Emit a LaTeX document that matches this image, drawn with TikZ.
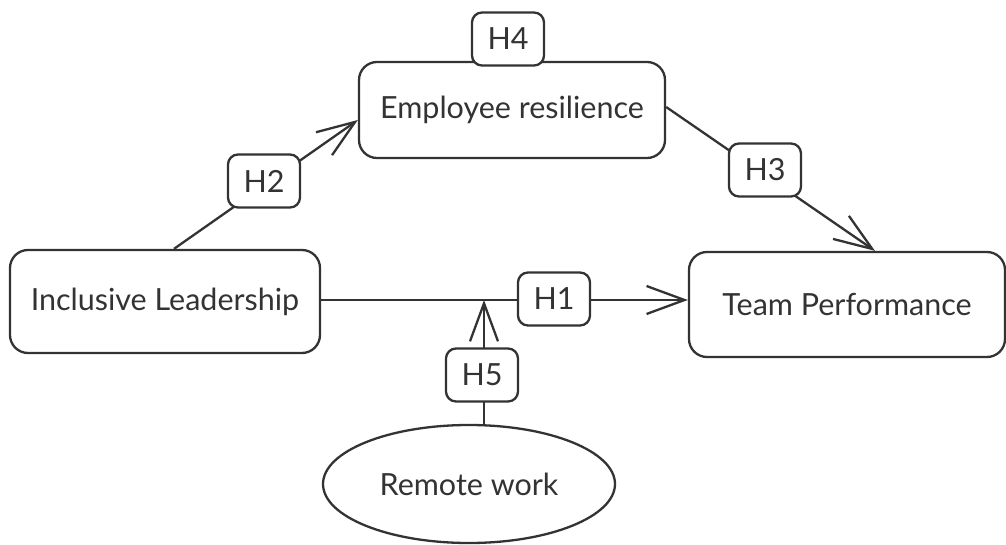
\documentclass[tikz,border=0pt]{standalone}
\usepackage{fontspec}
\setmainfont{Lato}
\usetikzlibrary{shapes.geometric,arrows.meta}
\definecolor{linec}{HTML}{333333}
\definecolor{txtc}{HTML}{333333}
\begin{document}
\begin{tikzpicture}[x=1pt,y=-1pt,
  every node/.style={inner sep=0pt, text=txtc},
  mainbox/.style={draw=linec, line width=2.3pt, rounded corners=18pt, fill=white,
    font=\fontsize{30.5}{36}\selectfont},
  hlabel/.style={draw=linec, line width=2.3pt, rounded corners=10pt, fill=white,
    minimum width=72pt, minimum height=53pt, font=\fontsize{30.5}{36}\selectfont},
  oval/.style={draw=linec, line width=2.3pt, ellipse, fill=white,
    minimum width=292pt, minimum height=118pt, font=\fontsize{30.5}{36}\selectfont},
  conn/.style={draw=linec, line width=2.3pt, -{Straight Barb[length=38pt,width=28pt,line width=2.3pt]}},
  plain/.style={draw=linec, line width=2.3pt}]
\useasboundingbox (0,0) rectangle (1006,545);
% main nodes
\node[mainbox, minimum width=310pt, minimum height=103pt] (IL) at (165,301.5) {Inclusive Leadership};
\node[mainbox, minimum width=306pt, minimum height=96pt] (ER) at (512,110) {Employee resilience};
\node[mainbox, minimum width=316pt, minimum height=105pt] (TP) at (847,304.5) {Team Performance};
\node[oval] (RW) at (469,484) {Remote work};
\coordinate (J) at (484,300);
% connectors
\draw[conn] ([xshift=9pt]IL.north) -- ([yshift=-10pt]ER.west);
\draw[conn] ([yshift=3pt]ER.east) -- ([xshift=28pt]TP.north);
\draw[conn] (IL.east |- J) -- (TP.west |- J);
\draw[conn] (RW.north -| J) -- (J);
% labels
\node[hlabel] (H2) at (264,181) {H2};
\node[hlabel] (H3) at (765,170) {H3};
\node[hlabel] (H1) at (554,299) {H1};
\node[hlabel] (H5) at (482,375) {H5};
\node[hlabel] (H4) at (508,39) {H4};
\end{tikzpicture}
\end{document}
